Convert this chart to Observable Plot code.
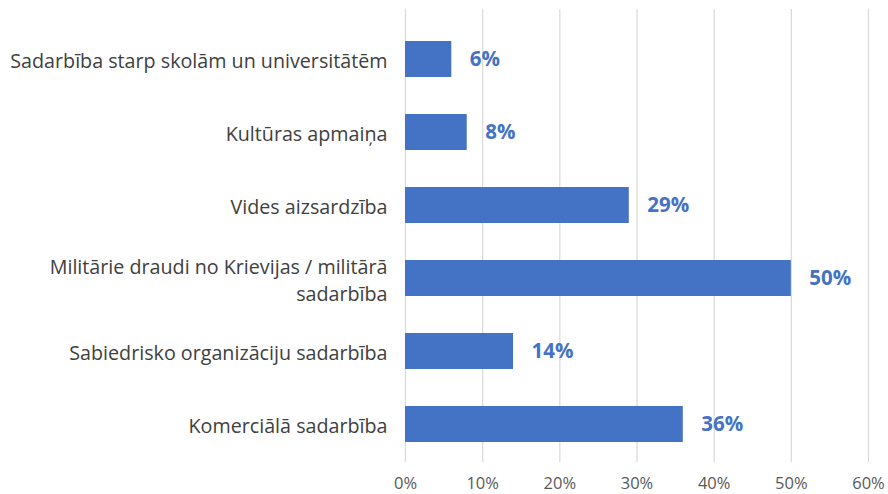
<!DOCTYPE html>
<html>
<head>
<meta charset="utf-8">
<script src="https://cdn.jsdelivr.net/npm/d3@7"></script>
<script src="https://cdn.jsdelivr.net/npm/@observablehq/plot@0.6"></script>
<style>
  html, body { margin: 0; padding: 0; background: #fff; }
</style>
</head>
<body>
<div id="chart"></div>
<script>
const categories = [
  "Sadarbība starp skolām un universitātēm",
  "Kultūras apmaiņa",
  "Vides aizsardzība",
  "Militārie draudi no Krievijas / militārā\nsadarbība",
  "Sabiedrisko organizāciju sadarbība",
  "Komerciālā sadarbība"
];
const values = [6, 8, 29, 50, 14, 36];
const xTicks = [0, 10, 20, 30, 40, 50, 60];

const data = categories.map((c, i) => ({category: c, value: values[i]}));

const chart = Plot.plot({
  width: 888,
  height: 494,
  marginLeft: 405,
  marginRight: 20,
  marginTop: 21,
  marginBottom: 32,
  style: {fontFamily: "Open Sans, sans-serif", background: "#fff"},
  x: {domain: [0, 60], ticks: xTicks, axis: null},
  y: {domain: categories, paddingInner: 0.51, paddingOuter: 0.255, axis: null},
  marks: [
    Plot.ruleX(xTicks, {stroke: "#d9d9d9", strokeWidth: 1.2, insetTop: -12, insetBottom: 0}),
    Plot.barX(data, {x: "value", y: "category", fill: "#4472C4"}),
    Plot.text(data, {x: 0, y: "category", text: "category", textAnchor: "end", dx: -18,
      fill: "#404040", fontSize: 19.7, lineHeight: 1.38}),
    Plot.text(data, {x: "value", y: "category", text: d => d.value + "%", textAnchor: "start", dx: 18,
      fill: "#4472C4", fontSize: 20.5, fontWeight: "bold"}),
    Plot.text(xTicks, {x: d => d, frameAnchor: "bottom", dy: 26, text: d => d + "%",
      fill: "#595959", fontSize: 16.5})
  ]
});
document.getElementById("chart").appendChild(chart);
</script>
</body>
</html>
